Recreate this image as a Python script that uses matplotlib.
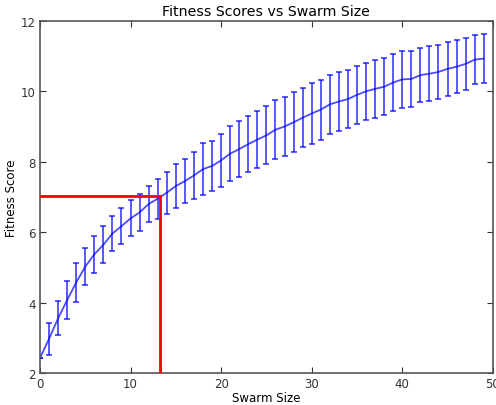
import matplotlib
matplotlib.use("Agg")
import matplotlib.pyplot as plt

swarm_size = list(range(50))
fitness_mean = [2.42, 2.97, 3.55, 4.07, 4.57, 5.02, 5.37, 5.64, 5.96, 6.17,
                6.39, 6.56, 6.80, 6.95, 7.12, 7.31, 7.45, 7.61, 7.79, 7.88,
                8.04, 8.23, 8.36, 8.50, 8.63, 8.75, 8.91, 9.00, 9.12, 9.25,
                9.37, 9.48, 9.63, 9.71, 9.78, 9.90, 10.00, 10.07, 10.13, 10.25,
                10.34, 10.35, 10.46, 10.50, 10.55, 10.64, 10.70, 10.78, 10.90, 10.93]
fitness_err = [0.0, 0.45, 0.48, 0.53, 0.55, 0.53, 0.53, 0.52, 0.51, 0.51,
               0.51, 0.52, 0.52, 0.57, 0.60, 0.63, 0.63, 0.67, 0.73, 0.71,
               0.76, 0.78, 0.79, 0.80, 0.82, 0.82, 0.83, 0.83, 0.85, 0.84,
               0.86, 0.85, 0.84, 0.83, 0.83, 0.83, 0.81, 0.82, 0.81, 0.80,
               0.80, 0.79, 0.77, 0.78, 0.77, 0.76, 0.75, 0.73, 0.70, 0.70]
threshold_x = 13.26
threshold_y = 7.03

fig = plt.figure(figsize=(4.96, 4.06), dpi=100)
ax = fig.add_axes([0.0806, 0.079, 0.913, 0.867])

ax.errorbar(swarm_size, fitness_mean, yerr=fitness_err, color='blue', alpha=0.7,
            linewidth=1.3, elinewidth=1.3, capsize=2.5, capthick=1.3, zorder=2)
ax.plot([0, threshold_x], [threshold_y, threshold_y], color='red', linewidth=2, zorder=3)
ax.plot([threshold_x, threshold_x], [2, threshold_y], color='red', linewidth=2, zorder=3)

ax.set_xlim(0, 50)
ax.set_ylim(2, 12)
ax.set_xticks([0, 10, 20, 30, 40, 50])
ax.set_yticks([2, 4, 6, 8, 10, 12])
ax.tick_params(direction='in', top=True, right=True, length=4, labelsize=8.5,
               colors='#333333', pad=3)
for s in ax.spines.values():
    s.set_color('#555555')
    s.set_linewidth(1.2)
ax.set_title('Fitness Scores vs Swarm Size', fontsize=10.2, pad=4)
ax.set_xlabel('Swarm Size', fontsize=8.5, labelpad=1)
ax.set_ylabel('Fitness Score', fontsize=8.5, labelpad=2)

fig.savefig('out.png', dpi=100)
